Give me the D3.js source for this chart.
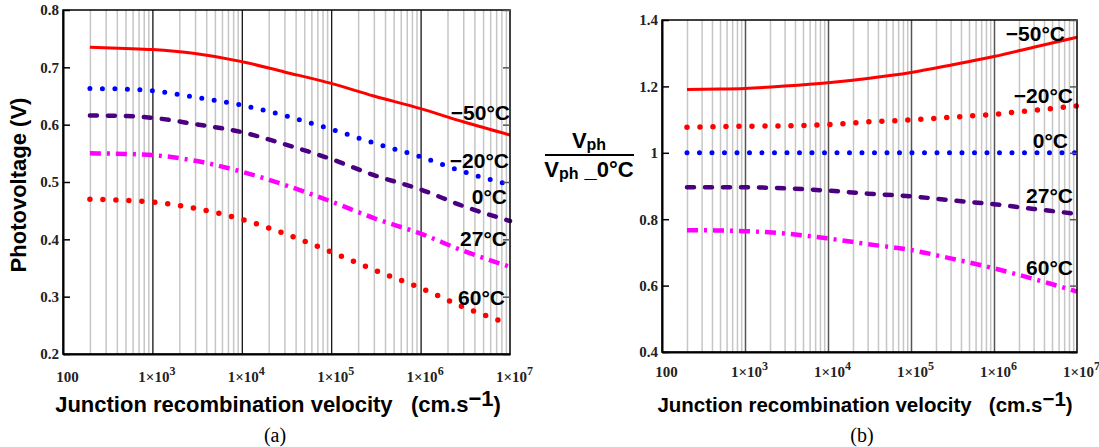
<!DOCTYPE html>
<html>
<head>
<meta charset="utf-8">
<script src="https://cdn.jsdelivr.net/npm/d3@7"></script>
<style>
  body { margin: 0; background: #fff; }
  svg { display: block; }
  .tick-lbl { font-family: "Liberation Serif", "Times New Roman", serif; font-weight: bold; font-size: 15px; fill: #222; }
  .ttl { font-family: "Liberation Sans", Arial, sans-serif; font-weight: bold; font-size: 22px; white-space: pre; fill: #000; }
  .curve-lbl { font-family: "Liberation Sans", Arial, sans-serif; font-weight: bold; font-size: 21px; fill: #000; }
  .cap { font-family: "Liberation Serif", "Times New Roman", serif; font-size: 20px; fill: #000; }
</style>
</head>
<body>
<svg width="1099" height="447"></svg>
<script>
// junction recombination velocity (cm/s) where the curves were read
var velocity = [200, 500, 1e3, 3e3, 1e4, 3e4, 1e5, 3e5, 1e6, 3e6, 1e7];
var tempLabels = ["\u221250°C", "\u221220°C", "0°C", "27°C", "60°C"];
var xTicks = [100, 1e3, 1e4, 1e5, 1e6, 1e7];

// (a) photovoltage (V)
var vphM50 = [0.735, 0.733, 0.731, 0.724, 0.710, 0.692, 0.672, 0.650, 0.628, 0.605, 0.582];
var vphM20 = [0.663, 0.662, 0.659, 0.648, 0.634, 0.616, 0.592, 0.568, 0.544, 0.518, 0.495];
var vph0   = [0.616, 0.615, 0.612, 0.601, 0.587, 0.566, 0.540, 0.512, 0.487, 0.458, 0.432];
var vph27  = [0.550, 0.549, 0.547, 0.537, 0.518, 0.495, 0.466, 0.437, 0.410, 0.380, 0.352];
var vph60  = [0.470, 0.468, 0.465, 0.454, 0.435, 0.410, 0.378, 0.347, 0.315, 0.282, 0.252];
var yTicksA = [0.2, 0.3, 0.4, 0.5, 0.6, 0.7, 0.8];

// (b) Vph / Vph_0°C
var ratioM50 = [1.191, 1.192, 1.194, 1.201, 1.211, 1.224, 1.242, 1.264, 1.290, 1.318, 1.348];
var ratioM20 = [1.077, 1.079, 1.080, 1.081, 1.085, 1.093, 1.099, 1.107, 1.116, 1.128, 1.141];
var ratio0   = [1.000, 1.000, 1.000, 1.000, 1.000, 1.000, 1.000, 1.000, 1.000, 1.000, 1.000];
var ratio27  = [0.896, 0.896, 0.896, 0.893, 0.886, 0.877, 0.869, 0.857, 0.845, 0.831, 0.816];
var ratio60  = [0.767, 0.766, 0.764, 0.757, 0.742, 0.725, 0.707, 0.682, 0.652, 0.620, 0.582];
var yTicksB = [0.4, 0.6, 0.8, 1, 1.2, 1.4];

var styles = {
    solid:   {color: "#ff0000", width: 3,   dash: null,       cap: "butt"},
    redDot:  {color: "#ff0000", width: 5.5, dash: "0,13",     cap: "round"},
    blueDot: {color: "#0000ff", width: 5,   dash: "0,12.5",   cap: "round"},
    dash:    {color: "#4b0082", width: 4.5, dash: "7,11",     cap: "round"},
    dashDot: {color: "#ff00ff", width: 4.5, dash: "11,6,3,6", cap: "butt"}
};

var svg = d3.select("svg");

function panel(o) {
    var g = svg.append("g");
    var x = d3.scaleLog().domain([100, 1e7]).range([o.left, o.right]);
    var y = d3.scaleLinear().domain(o.yDomain).range([o.bottom, o.top]);
    var h = o.bottom - o.top;

    // light minor grid (2..9 x each decade)
    var minor = [];
    for (var dec = 100; dec < 1e7; dec *= 10)
        for (var k = 2; k <= 9; k++) minor.push(k * dec);
    g.append("g")
        .attr("transform", "translate(0," + o.bottom + ")")
        .call(d3.axisBottom(x).tickValues(minor).tickSize(-h).tickFormat(""))
        .call(a => a.select(".domain").remove())
        .selectAll("line").attr("stroke", "#c6c6c6").attr("stroke-width", 1.5);

    // decade lines
    g.append("g")
        .attr("transform", "translate(0," + o.bottom + ")")
        .call(d3.axisBottom(x).tickValues([1e3, 1e4, 1e5, 1e6]).tickSize(-h).tickFormat(""))
        .call(a => a.select(".domain").remove())
        .selectAll("line").attr("stroke", o.major).attr("stroke-width", o.majorW);

    // curves
    var line = d3.line()
        .x((v, i) => x(velocity[i]))
        .y(v => y(v))
        .curve(d3.curveMonotoneX);

    o.series.forEach(function(s, i) {
        var st = styles[o.styles[i]];
        g.append("path")
            .attr("d", line(s))
            .attr("fill", "none")
            .attr("stroke", st.color)
            .attr("stroke-width", st.width)
            .attr("stroke-linecap", st.cap)
            .attr("stroke-dasharray", st.dash);
    });

    // frame
    g.append("rect")
        .attr("x", o.left).attr("y", o.top)
        .attr("width", o.right - o.left).attr("height", h)
        .attr("fill", "none").attr("stroke", "#000").attr("stroke-width", 1.5);

    // y axis, ticks pointing inward
    var ya = g.append("g")
        .attr("transform", "translate(" + o.left + ",0)")
        .call(d3.axisLeft(y).tickValues(o.yTicks).tickSizeInner(-7).tickSizeOuter(0)
            .tickPadding(4).tickFormat(d3.format("~g")));
    ya.select(".domain").attr("stroke-width", 2);
    ya.selectAll("line").attr("stroke-width", 1.5);
    ya.selectAll("text").attr("class", "tick-lbl");

    g.append("g")
        .attr("transform", "translate(" + o.right + ",0)")
        .call(d3.axisRight(y).tickValues(o.yTicks).tickSizeInner(-7).tickSizeOuter(0).tickFormat(""))
        .call(a => a.select(".domain").remove())
        .selectAll("line").attr("stroke", "#555").attr("stroke-width", 1.5);

    // x axis labels 100, 1x10^n
    var xa = g.append("g")
        .attr("transform", "translate(0," + o.bottom + ")")
        .call(d3.axisBottom(x).tickValues(xTicks).tickSize(0).tickFormat(""));
    xa.select(".domain").attr("stroke-width", 2);
    xa.selectAll(".tick text")
        .attr("class", "tick-lbl")
        .attr("y", o.xLblY)
        .attr("dy", null)
        .attr("dx", 4)
        .each(function(d) {
            var t = d3.select(this);
            if (d === 100) { t.text("100"); return; }
            t.append("tspan").text("1\u00d710");
            t.append("tspan").attr("dy", -7).attr("font-size", 12).text(Math.round(Math.log10(d)));
        });

    // curve labels
    o.series.forEach(function(s, i) {
        g.append("text")
            .attr("class", "curve-lbl")
            .attr("text-anchor", "end")
            .attr("x", x(1e7) + o.lblDx[i])
            .attr("y", y(s[s.length - 1]) + o.lblDy[i])
            .text(tempLabels[i]);
    });

    // x title
    var xt = g.append("text")
        .attr("class", "ttl")
        .attr("x", o.titleX)
        .attr("y", 412)
        .attr("font-size", o.titleSize)
        .style("font-size", o.titleSize + "px")
        .attr("text-anchor", "middle");
    xt.append("tspan").text("Junction recombination velocity   (cm.s");
    xt.append("tspan").attr("dy", -6).text("\u22121");
    xt.append("tspan").attr("dy", 6).text(")");

    g.append("text")
        .attr("class", "cap")
        .attr("x", o.titleX - 3)
        .attr("y", 442)
        .attr("text-anchor", "middle")
        .text(o.caption);
}

panel({
    left: 63, right: 510, top: 10, bottom: 354,
    yDomain: [0.2, 0.8], yTicks: yTicksA,
    series: [vphM50, vphM20, vph0, vph27, vph60],
    styles: ["solid", "blueDot", "dash", "dashDot", "redDot"],
    major: "#000", majorW: 1.2,
    xLblY: 28,
    lblDx: [0, -1, -3, -3, -5],
    lblDy: [-15, -17, -17, -21, -19],
    titleX: 278, titleSize: 22, caption: "(a)"
});

panel({
    left: 662, right: 1077, top: 20, bottom: 352,
    yDomain: [0.4, 1.4], yTicks: yTicksB,
    series: [ratioM50, ratioM20, ratio0, ratio27, ratio60],
    styles: ["solid", "redDot", "blueDot", "dash", "dashDot"],
    major: "#555", majorW: 1.5,
    xLblY: 25,
    lblDx: [-12, -4, -9, -4, -4],
    lblDy: [4, -3, -5, -11, -17],
    titleX: 865, titleSize: 20.5, caption: "(b)"
});

// y titles
svg.append("text")
    .attr("class", "ttl")
    .attr("text-anchor", "middle")
    .attr("transform", "translate(26,185) rotate(-90)")
    .text("Photovoltage (V)");

var num = svg.append("text").attr("class", "ttl").attr("x", 589).attr("y", 148).attr("text-anchor", "middle");
num.append("tspan").text("V");
num.append("tspan").attr("font-size", 16).attr("dy", 2).text("ph");

svg.append("line")
    .attr("x1", 545).attr("x2", 634).attr("y1", 155).attr("y2", 155)
    .attr("stroke", "#000").attr("stroke-width", 2);

var den = svg.append("text").attr("class", "ttl").attr("x", 589).attr("y", 177).attr("text-anchor", "middle");
den.append("tspan").text("V");
den.append("tspan").attr("font-size", 16).attr("dy", 2).text("ph");
den.append("tspan").attr("dy", -2).text(" _0°C");
</script>
</body>
</html>
